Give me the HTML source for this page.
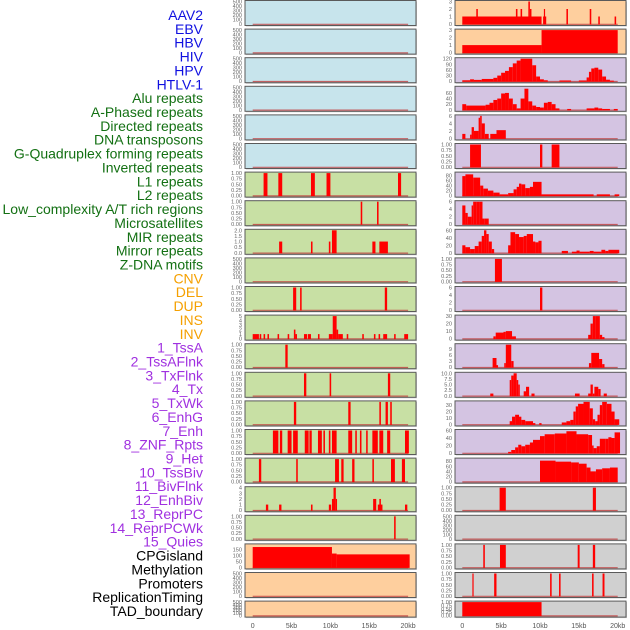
<!DOCTYPE html>
<html><head><meta charset="utf-8"><style>
body{margin:0;background:#fff;width:630px;height:630px;overflow:hidden}
svg{display:block;font-family:"Liberation Sans",sans-serif}
</style></head><body>
<svg id="c" width="630" height="630"></svg>
<script>
const labels=["AAV2","EBV","HBV","HIV","HPV","HTLV-1","Alu repeats","A-Phased repeats","Directed repeats","DNA transposons","G-Quadruplex forming repeats","Inverted repeats","L1 repeats","L2 repeats","Low_complexity A/T rich regions","Microsatellites","MIR repeats","Mirror repeats","Z-DNA motifs","CNV","DEL","DUP","INS","INV","1_TssA","2_TssAFlnk","3_TxFlnk","4_Tx","5_TxWk","6_EnhG","7_Enh","8_ZNF_Rpts","9_Het","10_TssBiv","11_BivFlnk","12_EnhBiv","13_ReprPC","14_ReprPCWk","15_Quies","CPGisland","Methylation","Promoters","ReplicationTiming","TAD_boundary"];
const labelColors=["#1010e0","#1010e0","#1010e0","#1010e0","#1010e0","#1010e0","#137013","#137013","#137013","#137013","#137013","#137013","#137013","#137013","#137013","#137013","#137013","#137013","#137013","#f5a000","#f5a000","#f5a000","#f5a000","#f5a000","#a030e0","#a030e0","#a030e0","#a030e0","#a030e0","#a030e0","#a030e0","#a030e0","#a030e0","#a030e0","#a030e0","#a030e0","#a030e0","#a030e0","#a030e0","#000","#000","#000","#000","#000"];
const xTicks=[0,5,10,15,20];
const xTickLabels=["0","5kb","10kb","15kb","20kb"];
const T500=[0,100,200,300,400,500], TB=[0,0.25,0.5,0.75,1];
const L6=[[1.4,1.9,1],[3.3,3.8,1],[7.5,8.0,1],[9.5,10.0,1],[18.7,19.1,1]];
const L7=[[13.9,14.1,1],[16.0,16.2,1]];
const L8=[[3.4,3.8,1],[7.5,7.7,1],[9.8,10.0,1],[10.2,10.8,2],[15.4,15.8,1],[16.3,17.4,1]];
const L10=[[5.2,5.6,1],[6.1,6.3,1],[17.0,17.3,1]];
const L11=[[0,0.8,1],[0.9,1.1,1],[1.4,1.6,1],[1.9,2.1,1],[3.2,3.4,1],[4.5,4.7,1],[5.3,5.5,2],[5.5,5.7,1],[6.6,7.0,1],[7.1,7.5,1],[8.4,8.6,1],[9.8,10.3,1],[10.3,10.8,5],[10.8,11.0,2],[11.0,11.6,1],[12.1,12.3,1],[14.1,14.3,1],[15.6,15.8,1],[16.2,16.4,1],[16.8,17.3,1],[18.2,18.4,1],[19.5,20.0,1]];
const L12=[[4.2,4.5,1]];
const L13=[[6.6,6.9,1],[9.9,10.1,1],[17.4,17.7,1]];
const L14=[[5.3,5.6,1],[12.3,12.6,1],[16.3,16.5,1],[17.1,17.4,1],[17.7,17.9,1]];
const L15=[[2.6,3.3,1],[3.5,3.8,1],[4.5,5.0,1],[5.2,5.8,1],[6.7,7.2,1],[7.3,7.6,1],[8.4,8.9,1],[9.1,9.3,1],[9.8,10.0,1],[10.2,10.8,1],[12.3,12.8,1],[13.2,13.4,1],[13.8,14.0,1],[14.6,14.8,1],[15.4,16.1,1],[16.3,16.8,1],[17.3,17.7,1],[19.6,20.1,1]];
const L16=[[0.8,1.1,1],[5.6,5.8,1],[10.6,11.1,1],[11.4,11.7,1],[12.8,13.1,1],[15.4,15.6,1],[17.8,18.3,1],[19.2,19.6,1]];
const L17=[[1.7,2.0,1],[3.4,3.7,1],[7.5,7.7,1],[9.8,10.1,1],[10.2,10.4,2],[10.4,10.7,4],[10.7,10.8,2],[15.5,15.9,2],[16.1,16.7,1],[16.3,16.5,2],[19.6,19.9,1]];
const L18=[[18.2,18.4,1]];
const L19=[[0,10.2,172],[10.2,10.8,117],[10.8,20.2,110]];
const R0=[[0,10.2,1],[1.8,2.0,2],[6.9,7.1,2],[7.5,7.7,2],[8.5,8.7,3],[8.7,8.9,2],[10.4,10.8,1],[10.5,10.6,2],[13.4,13.6,2],[16.4,16.6,2],[17.5,17.7,1],[19.6,19.8,1]];
const R1=[[0,10.2,1],[10.2,20,3]];
const R2=[[0,1,5],[1,1.5,10],[1.5,2.5,7],[2.5,4,12],[4,4.5,18],[4.5,5,30],[5,5.5,45],[5.5,6,55],[6,6.5,75],[6.5,7,95],[7,7.5,110],[7.5,9,125],[9,9.5,85],[9.5,10,25],[10,10.5,10],[10.5,11,5],[12.5,14,4],[15,16,4],[16,16.3,20],[16.3,16.6,50],[16.6,17,68],[17,17.5,72],[17.5,18,62],[18,18.5,25],[18.5,19,8],[19,19.5,3]];
const R3=[[0,0.5,20],[0.5,3,15],[3,3.5,18],[3.5,4,25],[4,4.5,35],[4.5,5,40],[5,5.5,58],[5.5,6,60],[6,6.5,40],[6.5,7,20],[7,7.5,5],[7.5,8,40],[8,8.5,75],[8.5,9,30],[9,9.5,15],[9.5,10,10],[10,10.5,8],[10.5,11,25],[11,11.5,28],[11.5,12,20],[12,12.5,5],[13.5,14,3],[16,17,5],[17,17.5,8],[17.5,18,5],[18,19,3],[19.5,20,3]];
const R4=[[0,0.4,1.2],[1,1.2,1],[1.2,1.5,3],[1.5,2.1,2],[2.1,2.3,5.5],[2.3,2.5,6],[2.5,2.9,4],[2.9,3.4,1.2],[3.6,4.4,1.2],[4.4,5.6,2.2]];
const R5=[[1.0,2.4,1],[10.0,10.3,1],[11.5,12.5,1]];
const R6=[[0,0.4,78],[0.4,1.4,85],[1.4,2.3,72],[2.3,2.7,40],[2.7,3.3,28],[3.3,4,20],[4,4.8,12],[4.8,5.9,5],[5.9,6.6,10],[6.6,7,25],[7,7.3,35],[7.3,7.6,48],[7.6,8.1,45],[8.1,8.7,30],[8.7,9.1,35],[9.1,10.2,55],[10.2,16.9,5],[17.3,19,5],[19.6,20.2,5]];
const R7=[[0,0.4,5],[0.4,0.7,3],[0.7,1.2,2],[1.2,1.4,5],[1.4,1.8,7],[1.8,2.2,6],[2.2,2.6,7],[2.6,2.9,1.5],[2.9,3.4,1.5]];
const R8=[[0,0.4,20],[0.4,1,15],[1,1.6,10],[1.6,2.1,18],[2.1,2.5,30],[2.5,2.8,45],[2.8,3.1,60],[3.1,3.4,50],[3.4,3.8,30],[3.8,4.1,10],[5.9,6.2,20],[6.2,6.8,55],[6.8,7.3,50],[7.3,7.9,42],[7.9,8.3,45],[8.3,9.1,50],[9.1,9.4,30],[9.4,9.8,28],[9.8,10.2,32],[12.8,13.6,5],[14.1,14.7,3],[14.7,15.1,6],[15.1,16.4,3],[16.4,16.9,5],[16.9,17.9,3],[17.9,18.4,8],[18.4,18.8,5],[18.8,20.2,8]];
const R9=[[4.2,5.1,1]];
const R10=[[10.0,10.3,6]];
const R11=[[4,4.3,3],[4.3,5.3,8],[5.3,5.6,9],[5.6,6.4,10],[6.4,6.9,3],[16.2,16.5,5],[16.5,16.8,20],[16.8,17.1,30],[17.1,17.7,32],[17.7,18,5],[18,18.3,2]];
const R12=[[3.9,4.4,4.5],[4.4,4.6,1],[5.4,5.6,2],[5.6,6.3,11],[6.3,6.6,3],[16.3,16.6,2],[16.6,17.6,7],[17.6,18,4],[18,18.3,1.5]];
const R13=[[3.6,4,1],[6.1,6.3,7],[6.3,6.6,9],[6.6,7,10],[7,7.2,7],[7.2,7.4,5],[7.9,8.2,2],[8.2,8.6,4],[8.9,9.3,1],[14.5,15.1,1],[16.2,16.5,1],[16.5,16.8,5],[16.8,17,1],[17,17.5,4],[17.5,17.8,3],[18.2,18.6,1]];
const R14=[[6.1,6.4,5],[6.4,6.8,12],[6.8,7.3,15],[7.3,7.6,12],[7.6,8.1,7],[8.1,9.1,5],[9.1,9.4,2],[9.9,10.2,2],[12.8,13.4,3],[13.4,13.9,5],[13.9,14.3,7],[14.3,14.6,20],[14.6,14.9,28],[14.9,15.6,32],[15.6,16.4,35],[16.4,16.8,25],[16.8,17.1,8],[17.1,17.4,5],[17.4,17.7,15],[17.7,18,30],[18,18.6,35],[18.6,19.2,32],[19.2,19.6,20],[19.6,20.2,8]];
const R15=[[5.9,6.3,3],[6.3,6.8,8],[6.8,7.2,15],[7.2,7.6,22],[7.6,8.1,18],[8.1,8.7,22],[8.7,9.1,28],[9.1,10,35],[10,10.6,45],[10.6,11.9,50],[11.9,13.4,52],[13.4,14.7,58],[14.7,16.2,50],[16.2,16.7,48],[16.7,16.9,20],[16.9,17.3,13],[17.3,17.7,18],[17.7,18.4,38],[18.4,18.8,38],[18.8,19.2,42],[19.2,19.6,40],[19.6,20.3,55]];
const R16=[[10,12,82],[12,14,78],[14,15,75],[15,16,70],[16,16.5,55],[16.5,17.2,40],[17.2,18,48],[18,19,52],[19,20,55]];
const R17=[[4.8,5.6,1],[16.8,17.2,1]];
const R19=[[2.7,2.9,1],[4.85,5.6,1],[14.85,15.1,1],[16.8,17.1,1]];
const R20=[[1.3,1.45,1],[4.1,4.4,1],[11.3,11.5,1],[12.45,12.65,1],[16.7,16.9,1],[18.05,18.3,1]];
const R21=[[0,10.2,1]];

const BL="#c7e4ec",GR="#c8e0a4",OR="#fecf9e",PU="#d4c4e2",GY="#d0d0d0";
const leftPanels=[[BL,T500,[]],[BL,T500,[]],[BL,T500,[]],[BL,T500,[]],[BL,T500,[]],[BL,T500,[]],
[GR,TB,L6],[GR,TB,L7],[GR,[0,0.5,1,1.5,2],L8],[GR,T500,[]],[GR,TB,L10],[GR,[0,1,2,3,4,5],L11],[GR,TB,L12],[GR,TB,L13],[GR,TB,L14],[GR,TB,L15],[GR,TB,L16],[GR,[0,1,2,3,4],L17],[GR,TB,L18],
[OR,[0,50,100,150],L19,190],[OR,T500,[]],[OR,T500,[]]];
const rightPanels=[[OR,[0,1,2,3],R0],[OR,[0,1,2,3],R1],[PU,[0,30,60,90,120],R2],[PU,[0,20,40,60],R3,80],[PU,[0,2,4,6],R4],[PU,TB,R5],[PU,[0,20,40,60,80],R6,90],[PU,[0,2,4,6],R7],[PU,[0,20,40,60],R8],[PU,TB,R9],[PU,[0,2,4,6],R10],[PU,[0,10,20,30],R11],[PU,[0,3,6,9],R12,11],[PU,[0,2.5,5,7.5,10],R13],[PU,[0,10,20,30],R14,35],[PU,[0,20,40,60],R15],[PU,[0,20,40,60,80],R16,88],
[GY,TB,R17],[GY,T500,[]],[GY,TB,R19],[GY,TB,R20],[GY,TB,R21]];

const svg=document.getElementById('c');const NS="http://www.w3.org/2000/svg";
function mk(t,a,p){const e=document.createElementNS(NS,t);for(const k in a)e.setAttribute(k,a[k]);(p||svg).appendChild(e);return e;}
const PX=7.77;
function fmt(v,ticks){const dec=ticks.some(t=>t%1!==0);if(!dec)return String(v);const two=ticks.some(t=>Math.round(t*100)%10!==0);return two?v.toFixed(2):v.toFixed(1);}
function drawCol(panels,px0,x0,col){
  panels.forEach((p,r)=>{
    const [bg,ticks,segs,ymx]=p;const top=r*28.6+0.5,h=r===21?16:25;const bot=top+h;
    const ymax=ymx||ticks[ticks.length-1];
    const yS=v=>bot-1.5-(Math.min(v,ymax)/ymax)*(h-2.5);
    const xS=k=>x0+k*PX;
    const g=mk('g',{});
    
    
    mk('rect',{x:px0+1,y:top+1,width:171,height:h,fill:'#999',opacity:0.5},g);
    mk('rect',{x:px0,y:top,width:171,height:h,fill:bg,stroke:'#5a5a5a','stroke-width':1},g);
    mk('line',{x1:xS(0),x2:xS(20),y1:bot-1.2,y2:bot-1.2,stroke:'#c04040','stroke-width':1.2,opacity:0.8},g);
    segs.forEach(s=>{const b=mk('rect',{x:xS(s[0]),y:yS(s[2]),width:Math.max(1.2,(s[1]-s[0])*PX),height:bot-1-yS(s[2]),fill:'#ff0000'},g);
      });
    ticks.forEach(t=>{const tx=mk('text',{x:px0-3,y:yS(t)+2,'font-size':5.6,fill:'#666','text-anchor':'end'},g);tx.textContent=fmt(t,ticks);
      });
  });
  xTicks.forEach((k,i)=>{const t=mk('text',{x:x0+k*PX,y:628,'font-size':7,fill:'#555','text-anchor':'middle'});t.textContent=xTickLabels[i];
    });
}
drawCol(leftPanels,245,252.7,'left');
drawCol(rightPanels,455,462.3,'right');
labels.forEach((l,i)=>{const t=mk('text',{x:203,y:20+i*13.86,'font-size':14,fill:labelColors[i],'text-anchor':'end'});t.textContent=l;
  });
</script>
</body></html>
